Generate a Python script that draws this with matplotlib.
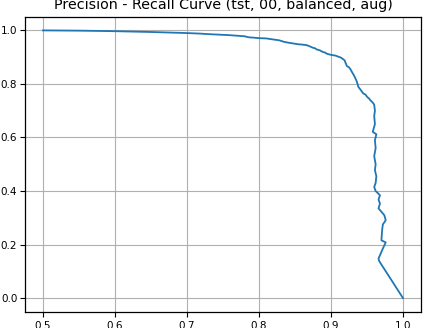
import matplotlib
matplotlib.use("Agg")
import matplotlib.pyplot as plt

recall = [0.500, 0.550, 0.600, 0.650, 0.700, 0.718, 0.730, 0.745, 0.760, 0.770,
          0.780, 0.786, 0.792, 0.800, 0.810, 0.820, 0.828, 0.835, 0.843, 0.848,
          0.855, 0.860, 0.866, 0.870, 0.875, 0.878, 0.880, 0.885, 0.888, 0.892,
          0.894, 0.898, 0.901, 0.906, 0.910, 0.914, 0.917, 0.919, 0.920, 0.921,
          0.922, 0.925, 0.927, 0.929, 0.931, 0.933, 0.936, 0.938, 0.940, 0.942,
          0.945, 0.948, 0.950, 0.953, 0.955, 0.957, 0.959, 0.960, 0.961, 0.960,
          0.961, 0.958, 0.963, 0.961, 0.962, 0.960, 0.962, 0.961, 0.963, 0.962,
          0.960, 0.962, 0.964, 0.968, 0.966, 0.968, 0.966, 0.974, 0.976, 0.972,
          0.971, 0.970, 0.976, 0.972, 0.968, 0.966, 0.967, 1.000]
precision = [1.000, 0.999, 0.997, 0.994, 0.990, 0.988, 0.986, 0.984, 0.982, 0.980,
             0.978, 0.974, 0.973, 0.971, 0.970, 0.966, 0.963, 0.957, 0.953, 0.951,
             0.948, 0.947, 0.945, 0.941, 0.935, 0.933, 0.929, 0.925, 0.920, 0.917,
             0.913, 0.910, 0.908, 0.906, 0.902, 0.898, 0.892, 0.888, 0.880, 0.874,
             0.867, 0.862, 0.855, 0.845, 0.836, 0.826, 0.808, 0.789, 0.782, 0.775,
             0.764, 0.760, 0.752, 0.745, 0.738, 0.733, 0.727, 0.722, 0.700, 0.680,
             0.650, 0.621, 0.612, 0.590, 0.560, 0.530, 0.500, 0.478, 0.455, 0.430,
             0.415, 0.400, 0.395, 0.384, 0.368, 0.353, 0.335, 0.310, 0.291, 0.275,
             0.254, 0.216, 0.208, 0.185, 0.160, 0.148, 0.138, 0.000]

title = "Precision - Recall Curve (tst, 00, balanced, aug)"

fig = plt.figure(figsize=(4.24, 3.28), dpi=100)
ax = fig.add_axes([25 / 424, (328 - 311.5) / 328, 396 / 424, (311.5 - 17) / 328])
ax.plot(recall, precision, color="#1f77b4", lw=1.3)
ax.set_xlim(0.475, 1.025)
ax.set_ylim(-0.05, 1.05)
ax.set_xticks([0.5, 0.6, 0.7, 0.8, 0.9, 1.0])
ax.set_yticks([0.0, 0.2, 0.4, 0.6, 0.8, 1.0])
ax.grid(True, color="#b0b0b0", lw=0.8)
ax.tick_params(labelsize=7.5, length=3.3, width=0.8, pad=2.2)
ax.tick_params(axis="x", pad=3.8)
for s in ax.spines.values():
    s.set_linewidth(0.9)
ax.set_title(title, fontsize=10.3, pad=5.5)
fig.savefig("out.png", dpi=100)
